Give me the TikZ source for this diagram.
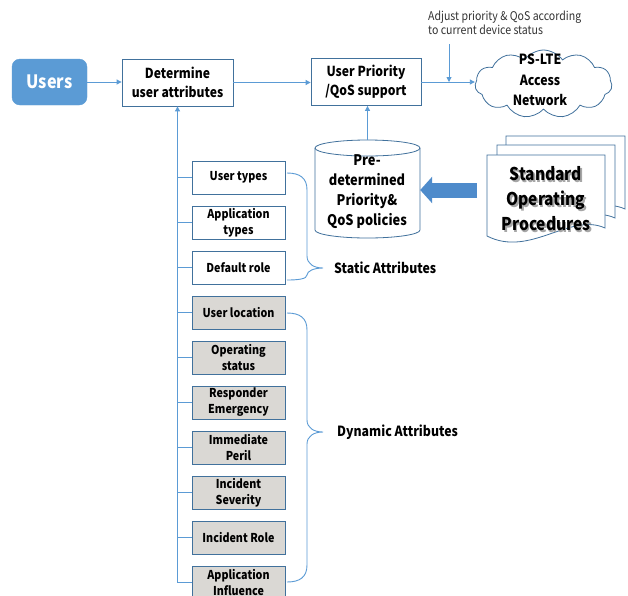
\documentclass[tikz,border=0pt]{standalone}
\usepackage{fontspec}
\setmainfont[FakeStretch=0.88]{Noto Sans CJK KR}
\usetikzlibrary{shapes.symbols,arrows.meta,calc}

\definecolor{linkblue}{HTML}{5B9BD5}
\definecolor{edgeblue}{HTML}{41719C}
\definecolor{userfill}{HTML}{5B9BD5}
\definecolor{bigarrow}{HTML}{4E8BCB}
\definecolor{dynfill}{HTML}{DAD8D4}

\tikzset{
  conn/.style={draw=linkblue, line width=0.9pt, -{Triangle[length=5pt,width=5pt]}},
  plain/.style={draw=linkblue, line width=0.9pt},
  brace/.style={draw=linkblue, line width=0.9pt},
  attr/.style={draw=edgeblue, line width=0.8pt, minimum width=93pt, minimum height=33pt,
    inner sep=0pt, align=center, font=\bfseries\fontsize{12.2}{16}\selectfont},
  statbox/.style={attr, fill=white},
  dynbox/.style={attr, fill=dynfill},
  mainbox/.style={draw=edgeblue, line width=0.8pt, fill=white, minimum width=111pt,
    minimum height=47pt, align=center, inner sep=0pt, font=\bfseries\fontsize{13.8}{19}\selectfont},
  page/.style={fill=white, draw=edgeblue, line width=0.8pt},
  bigtext/.style={font=\bfseries\fontsize{14.6}{20}\selectfont, align=center, inner sep=0pt},
  soptext/.style={align=center, inner sep=0pt, font=\bfseries\fontsize{17.6}{25}\selectfont},
  sidelabel/.style={anchor=west, inner sep=0pt, font=\bfseries\fontsize{14}{16}\selectfont},
}

\begin{document}
\begin{tikzpicture}[x=1pt,y=-1pt]
\useasboundingbox (0,0) rectangle (628,595);
\fill[white] (0,0) rectangle (628,595);
\clip (0,0) rectangle (628,595);

% top row
\node[fill=userfill, draw=userfill, rounded corners=8pt, minimum width=75pt, minimum height=46pt,
  text=white, font=\bfseries\fontsize{18.4}{20}\selectfont] (users) at (49.5,82) {Users};
\node[mainbox] (det) at (177.5,82.5) {Determine\\user attributes};
\node[mainbox, minimum width=110pt] (prio) at (366,82) {User Priority\\/QoS support};

% access network cloud
\node[cloud, cloud puffs=11, cloud puff arc=110, aspect=2, draw=edgeblue, line width=0.8pt,
  fill=white, minimum width=137pt, minimum height=68pt, inner sep=0pt] (net) at (543.5,84) {};
\node[bigtext, font=\bfseries\fontsize{14}{20.5}\selectfont] (nettext) at (540,80) {PS-LTE\\Access\\Network};

% annotation above the network link
\node[anchor=north west, align=left, inner sep=0pt, text=black!80,
  font=\fontsize{12}{14}\selectfont] (note) at (428,11) {Adjust priority \& QoS according\\to current device status};
\coordinate (adjtop) at (449,44);

\draw[conn] (users.east) -- (users.east -| det.west);
\draw[conn] (det.east) -- (det.east -| prio.west);
\draw[conn] (prio.east) -- (prio.east -| net.west);
\draw[conn] (adjtop) -- (adjtop |- prio.east);

% policy store (cylinder)
\filldraw[fill=white, draw=edgeblue, line width=0.8pt]
  (315,148) -- (315,230) arc[start angle=180, end angle=0, x radius=52.5, y radius=8]
  -- (420,148) arc[start angle=0, end angle=-180, x radius=52.5, y radius=8] -- cycle;
\draw[edgeblue, line width=0.8pt] (315,148) arc[start angle=180, end angle=0, x radius=52.5, y radius=8];
\node[minimum width=105pt, minimum height=98pt, inner sep=0pt] (pol) at (367.5,189) {};
\node[bigtext] (poltext) at (367,192) {Pre-\\determined\\Priority\&\\QoS policies};
\draw[conn] (pol.north) -- (pol.north |- prio.south);

% standard operating procedures (stacked pages)
\draw[page] (506,136) -- (625,136) -- (625,209) .. controls (590,193) and (550,239) .. (506,217) -- cycle;
\draw[page] (497,145) -- (615,145) -- (615,218) .. controls (580,202) and (540,248) .. (497,226) -- cycle;
\draw[page] (487,155) -- (605,155) -- (605,228) .. controls (570,212) and (530,258) .. (487,236) -- cycle;
\node[soptext, text=black!35] (sopshade) at (547.5,200.5) {Standard\\Operating\\Procedures};
\node[soptext] (sop) at (546,199) {Standard\\Operating\\Procedures};
\coordinate (sopw) at (477,190);
\draw[bigarrow, line width=15pt, -{Triangle[length=12pt,width=26pt]}] (sopw) -- (sopw -| pol.east);

% attribute boxes
\node[statbox] (ut) at (238.5,177.5) {User types};
\node[statbox] (at) at (238.5,222.5) {Application\\types};
\node[statbox] (dr) at (238.5,267.5) {Default role};
\node[dynbox] (ul) at (238.5,312.5) {User location};
\node[dynbox] (os) at (238.5,357.5) {Operating\\status};
\node[dynbox] (re) at (238.5,402.5) {Responder\\Emergency};
\node[dynbox] (ip) at (238.5,447.5) {Immediate\\Peril};
\node[dynbox] (is) at (238.5,492.5) {Incident\\Severity};
\node[dynbox] (ir) at (238.5,537.5) {Incident Role};
\node[dynbox] (ai) at (238.5,582.5) {Application\\Influence};

% trunk into "Determine user attributes"
\draw[conn] (ai.west) -| (det.south);
\foreach \b in {ut,at,dr,ul,os,re,ip,is,ir}
  \draw[plain] (\b.west) -- (\b.west -| det.south);

% braces
\draw[brace] (287,173) .. controls (300,173) and (307,178) .. (307,190) -- (307,256)
  .. controls (307,264) and (314,268) .. (323,268)
  .. controls (314,268) and (307,271) .. (307,275)
  .. controls (307,279) and (298,280) .. (287,280);
\draw[brace] (287,313) .. controls (300,313) and (307,318) .. (307,330) -- (307,420)
  .. controls (307,428) and (314,432) .. (323,432)
  .. controls (314,432) and (307,436) .. (307,444) -- (307,565)
  .. controls (307,577) and (300,582) .. (287,582);

\node[sidelabel] (stat) at (334,268) {Static Attributes};
\node[sidelabel] (dyn) at (337,432) {Dynamic Attributes};
\end{tikzpicture}
\end{document}
